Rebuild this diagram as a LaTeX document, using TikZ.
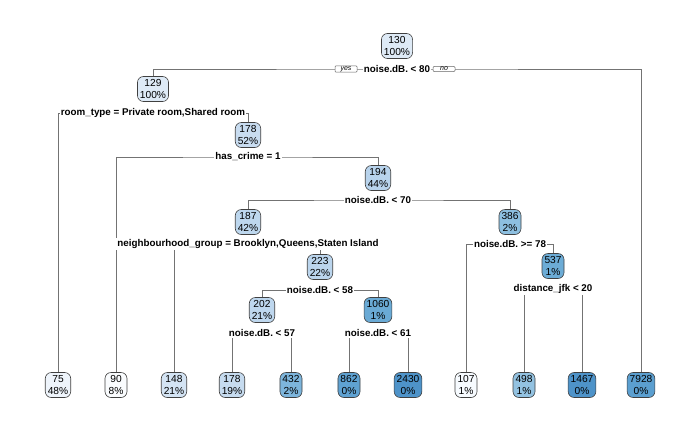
\documentclass[tikz,border=0pt]{standalone}
\usepackage{fontspec}
\setmainfont{Liberation Sans}
\begin{document}
\begin{tikzpicture}[x=1pt,y=-1pt,
  tnode/.style={draw=black!75, line width=0.6pt, rounded corners=6pt, align=center,
    inner xsep=2.5pt, inner ysep=1.5pt, minimum height=25pt, minimum width=22pt,
    font=\fontsize{10.2}{12}\selectfont},
  splitlbl/.style={fill=white, inner xsep=1pt, inner ysep=1.5pt,
    font=\fontsize{9.8}{11}\selectfont\bfseries},
  branch/.style={draw=black!55, line width=0.7pt},
  yn/.style={draw=black!60, fill=white, line width=0.5pt, rounded corners=1pt,
    inner xsep=2pt, inner ysep=0.6pt, minimum width=22pt,
    font=\fontsize{7}{8}\selectfont\itshape}]
\useasboundingbox (0,0) rectangle (700,432);

% node fills, light to dark blue
\definecolor{c130}{HTML}{DEEAF6}
\definecolor{c178n}{HTML}{C8DCF0}
\definecolor{c194}{HTML}{B8D3EC}
\definecolor{c187}{HTML}{BDD7EE}
\definecolor{c223}{HTML}{BBD5ED}
\definecolor{c202}{HTML}{BED7EE}
\definecolor{c1060}{HTML}{6AAAD5}
\definecolor{c386}{HTML}{8DBFE0}
\definecolor{c537}{HTML}{6CACD6}
\definecolor{c75}{HTML}{EEF4FB}
\definecolor{c90}{HTML}{FAFCFE}
\definecolor{c148}{HTML}{D4E4F4}
\definecolor{c178l}{HTML}{C6DBEF}
\definecolor{c432}{HTML}{7DB5DC}
\definecolor{c862}{HTML}{5FA2D2}
\definecolor{c2430}{HTML}{4E93C9}
\definecolor{c107}{HTML}{F7FBFF}
\definecolor{c498}{HTML}{93C2E1}
\definecolor{c1467}{HTML}{4E93C9}
\definecolor{c7928}{HTML}{5B9FD0}

% split points
\coordinate (s1) at (397,69);
\coordinate (s2) at (153,113);
\coordinate (s3) at (248,157);
\coordinate (s4) at (378,200);
\coordinate (s5) at (248,244);
\coordinate (s6) at (320,290);
\coordinate (s7) at (262,333);
\coordinate (s8) at (378,333);
\coordinate (s9) at (510,244);
\coordinate (s10) at (553,289);

% inner nodes
\node[tnode, fill=c130]  (n1)  at (397,46)  {130\\100\%};
\node[tnode, fill=c130]  (n2)  at (153,89)  {129\\100\%};
\node[tnode, fill=c178n] (n3)  at (248,135) {178\\52\%};
\node[tnode, fill=c194]  (n4)  at (378,178) {194\\44\%};
\node[tnode, fill=c187]  (n5)  at (248,222) {187\\42\%};
\node[tnode, fill=c223]  (n6)  at (320,267) {223\\22\%};
\node[tnode, fill=c202]  (n7)  at (262,310) {202\\21\%};
\node[tnode, fill=c1060] (n8)  at (378,310) {1060\\1\%};
\node[tnode, fill=c386]  (n9)  at (510,222) {386\\2\%};
\node[tnode, fill=c537]  (n10) at (553,266) {537\\1\%};

% leaves
\node[tnode, fill=c75]   (l1)  at (58,385)  {75\\48\%};
\node[tnode, fill=c90]   (l2)  at (116,385) {90\\8\%};
\node[tnode, fill=c148]  (l3)  at (174,385) {148\\21\%};
\node[tnode, fill=c178l] (l4)  at (232,385) {178\\19\%};
\node[tnode, fill=c432]  (l5)  at (291,385) {432\\2\%};
\node[tnode, fill=c862]  (l6)  at (349,385) {862\\0\%};
\node[tnode, fill=c2430] (l7)  at (408,385) {2430\\0\%};
\node[tnode, fill=c107]  (l8)  at (466,385) {107\\1\%};
\node[tnode, fill=c498]  (l9)  at (524,385) {498\\1\%};
\node[tnode, fill=c1467] (l10) at (582,385) {1467\\0\%};
\node[tnode, fill=c7928] (l11) at (641,385) {7928\\0\%};

% branches
\path[branch] (n2.north) |- (s1) -| (l11.north);
\path[branch] (l1.north) |- (s2) -| (n3.north);
\path[branch] (l2.north) |- (s3) -| (n4.north);
\path[branch] (n5.north) |- (s4) -| (n9.north);
\path[branch] (l3.north) |- (s5) -| (n6.north);
\path[branch] (n7.north) |- (s6) -| (n8.north);
\path[branch] (l4.north) |- (s7) -| (l5.north);
\path[branch] (l6.north) |- (s8) -| (l7.north);
\path[branch] (l8.north) |- (s9) -| (n10.north);
\path[branch] (l9.north) |- (s10) -| (l10.north);

% split labels
\node[splitlbl] (t1)  at (s1)  {noise.dB. < 80};
\node[splitlbl] (t2)  at (s2)  {room\_type = Private room,Shared room};
\node[splitlbl] (t3)  at (s3)  {has\_crime = 1};
\node[splitlbl] (t4)  at (s4)  {noise.dB. < 70};
\node[splitlbl] (t5)  at (s5)  {neighbourhood\_group = Brooklyn,Queens,Staten Island};
\node[splitlbl] (t6)  at (s6)  {noise.dB. < 58};
\node[splitlbl] (t7)  at (s7)  {noise.dB. < 57};
\node[splitlbl] (t8)  at (s8)  {noise.dB. < 61};
\node[splitlbl] (t9)  at (s9)  {noise.dB. >= 78};
\node[splitlbl] (t10) at (s10) {distance\_jfk < 20};

% yes / no tags on the first split
\node[yn] (yes) at (346,69) {yes};
\node[yn] (no)  at (444,69) {no};
\end{tikzpicture}
\end{document}
